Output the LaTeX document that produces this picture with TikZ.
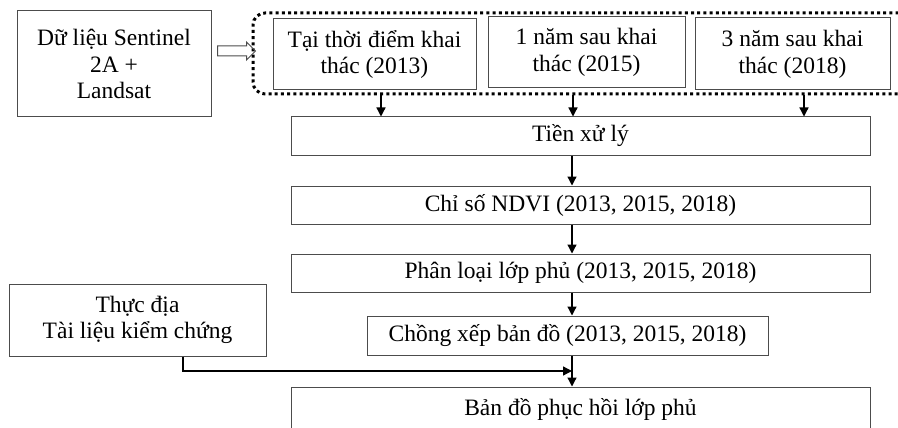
\documentclass[tikz,border=0pt]{standalone}
\usepackage{fontspec}
\setmainfont{Liberation Serif}
\usetikzlibrary{shapes, shapes.arrows, arrows.meta, positioning}

\begin{document}
\begin{tikzpicture}[x=1pt, y=-1pt, line width=1.3pt, >={Triangle[length=9pt,width=9pt]},
		elem/.style={draw=black!70,rectangle,line width=1pt,align=center,inner sep=0pt,font=\fontsize{23.5}{26.7}\selectfont},
		wide/.style={elem,minimum width=579pt,minimum height=38pt},
		grpbox/.style={draw,rectangle,rounded corners=12pt,line width=3pt,dash pattern=on 3pt off 3.2pt},
		feed/.style={draw=black!70,single arrow,single arrow head extend=4pt,inner sep=4.5pt,minimum height=38pt,minimum width=17pt,line width=1pt}]
		\useasboundingbox (0,0) rectangle (898,428);
		\node (src) [elem, minimum width=194pt, minimum height=106pt] at (114,64) {Dữ liệu Sentinel\\2A +\\Landsat};
		\node (grp) [grpbox, minimum width=670pt, minimum height=81pt] at (588,53.5) {};
		\node (y1) [elem, minimum width=203pt, minimum height=71pt] at (374.5,54.5) {Tại thời điểm khai\\thác (2013)};
		\node (y2) [elem, minimum width=197pt, minimum height=71pt] at (586.5,52.5) {1 năm sau khai\\thác (2015)};
		\node (y3) [elem, minimum width=195pt, minimum height=72pt] at (792.5,54) {3 năm sau khai\\thác (2018)};
		\node (arr) [feed] at (234,51) {};
		\node (pre) [wide] at (580.5,136) {Tiền xử lý};
		\node (ndvi) [wide, below=30pt of pre] {Chỉ số NDVI (2013, 2015, 2018)};
		\node (cls) [wide, below=29pt of ndvi] {Phân loại lớp phủ (2013, 2015, 2018)};
		\node (ovl) [elem, minimum width=401pt, minimum height=39pt] at (567.5,335.5) {Chồng xếp bản đồ (2013, 2015, 2018)};
		\node (out) [wide, minimum height=44pt] at (580.5,409) {Bản đồ phục hồi lớp phủ};
		\node (fld) [elem, minimum width=257pt, minimum height=72pt] at (137.5,320) {Thực địa\\Tài liệu kiểm chứng};
		\coordinate (a1) at (381,0);
		\coordinate (a2) at (573,0);
		\coordinate (a3) at (804,0);
		\coordinate (jn) at (572,371);
		\draw [->] (grp.south -| a1) -- (pre.north -| a1);
		\draw [->] (grp.south -| a2) -- (pre.north -| a2);
		\draw [->] (grp.south -| a3) -- (pre.north -| a3);
		\draw [->] (pre.south -| jn) -- (ndvi.north -| jn);
		\draw [->] (ndvi.south -| jn) -- (cls.north -| jn);
		\draw [->] (cls.south -| jn) -- (ovl.north -| jn);
		\draw [->] (ovl.south -| jn) -- (out.north -| jn);
		\draw [->] ([xshift=45.5pt]fld.south) |- (jn);
	\end{tikzpicture}
\end{document}
